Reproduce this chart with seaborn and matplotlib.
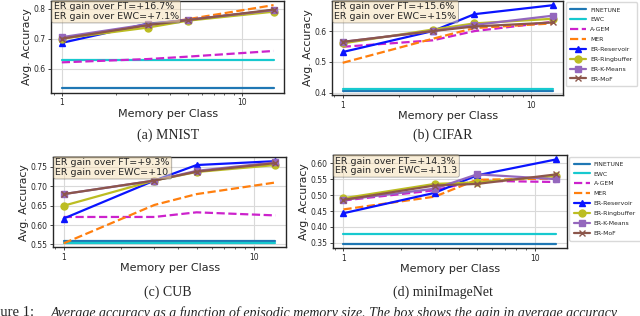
import matplotlib
matplotlib.use("Agg")
import matplotlib.pyplot as plt
import seaborn as sns
import pandas as pd

# ---------------- data ----------------
methods = ["FINETUNE", "EWC", "A-GEM", "MER", "ER-Reservoir",
           "ER-Ringbuffer", "ER-K-Means", "ER-MoF"]

mnist_x = [1, 3, 5, 15]
mnist_finetune = [0.534, 0.534, 0.534, 0.534]
mnist_ewc = [0.630, 0.630, 0.630, 0.630]
mnist_agem = [0.621, 0.632, 0.640, 0.659]
mnist_mer = [0.700, 0.745, 0.765, 0.812]
mnist_reservoir = [0.686, 0.750, 0.762, 0.795]
mnist_ringbuffer = [0.700, 0.737, 0.760, 0.790]
mnist_kmeans = [0.705, 0.748, 0.763, 0.795]
mnist_mof = [0.700, 0.745, 0.762, 0.797]

cifar_x = [1, 3, 5, 13]
cifar_finetune = [0.406, 0.406, 0.406, 0.406]
cifar_ewc = [0.411, 0.411, 0.411, 0.411]
cifar_agem = [0.549, 0.570, 0.600, 0.630]
cifar_mer = [0.497, 0.575, 0.610, 0.625]
cifar_reservoir = [0.532, 0.600, 0.655, 0.684]
cifar_ringbuffer = [0.560, 0.605, 0.625, 0.640]
cifar_kmeans = [0.565, 0.600, 0.620, 0.650]
cifar_mof = [0.565, 0.600, 0.615, 0.628]

cub_x = [1, 3, 5, 13]
cub_finetune = [0.559, 0.559, 0.559, 0.559]
cub_ewc = [0.553, 0.553, 0.553, 0.553]
cub_agem = [0.621, 0.621, 0.633, 0.625]
cub_mer = [0.553, 0.652, 0.680, 0.710]
cub_reservoir = [0.617, 0.715, 0.755, 0.765]
cub_ringbuffer = [0.650, 0.715, 0.737, 0.755]
cub_kmeans = [0.680, 0.715, 0.740, 0.762]
cub_mof = [0.680, 0.715, 0.738, 0.760]

mini_x = [1, 3, 5, 13]
mini_finetune = [0.347, 0.347, 0.347, 0.347]
mini_ewc = [0.378, 0.378, 0.378, 0.378]
mini_agem = [0.483, 0.515, 0.545, 0.541]
mini_mer = [0.455, 0.495, 0.548, 0.552]
mini_reservoir = [0.443, 0.507, 0.562, 0.612]
mini_ringbuffer = [0.490, 0.535, 0.540, 0.560]
mini_kmeans = [0.485, 0.520, 0.565, 0.550]
mini_mof = [0.485, 0.530, 0.535, 0.565]

box_texts = [
    "ER gain over FT=+16.7%\nER gain over EWC=+7.1%",
    "ER gain over FT=+15.6%\nER gain over EWC=+15%",
    "ER gain over FT=+9.3%\nER gain over EWC=+10",
    "ER gain over FT=+14.3%\nER gain over EWC=+11.3",
]
captions = ["(a) MNIST", "(b) CIFAR", "(c) CUB", "(d) miniImageNet"]

# ---------------- style ----------------
sns.set_style("whitegrid", {
    "axes.edgecolor": "0.15",
    "grid.color": "0.85",
    "xtick.bottom": True,
    "ytick.left": True,
})
plt.rcParams["font.family"] = ["DejaVu Sans"]
plt.rcParams["axes.linewidth"] = 1.0

styles = {
    "FINETUNE": dict(color="#1f77b4", ls="-", marker=None),
    "EWC": dict(color="#17c9cf", ls="-", marker=None),
    "A-GEM": dict(color="#cc22cc", ls="--", marker=None),
    "MER": dict(color="#ff7f0e", ls="--", marker=None),
    "ER-Reservoir": dict(color="#0a14ff", ls="-", marker="^"),
    "ER-Ringbuffer": dict(color="#bcbd22", ls="-", marker="o"),
    "ER-K-Means": dict(color="#9467bd", ls="-", marker="s"),
    "ER-MoF": dict(color="#8c564b", ls="-", marker="x"),
}

panels = [
    (mnist_x, [mnist_finetune, mnist_ewc, mnist_agem, mnist_mer, mnist_reservoir,
               mnist_ringbuffer, mnist_kmeans, mnist_mof]),
    (cifar_x, [cifar_finetune, cifar_ewc, cifar_agem, cifar_mer, cifar_reservoir,
               cifar_ringbuffer, cifar_kmeans, cifar_mof]),
    (cub_x, [cub_finetune, cub_ewc, cub_agem, cub_mer, cub_reservoir,
             cub_ringbuffer, cub_kmeans, cub_mof]),
    (mini_x, [mini_finetune, mini_ewc, mini_agem, mini_mer, mini_reservoir,
              mini_ringbuffer, mini_kmeans, mini_mof]),
]

positions = [
    [0.080, 0.707, 0.364, 0.290],
    [0.519, 0.699, 0.361, 0.298],
    [0.083, 0.217, 0.364, 0.286],
    [0.520, 0.215, 0.366, 0.294],
]
caption_pos = [(0.262, 0.572), (0.692, 0.572), (0.262, 0.076), (0.692, 0.076)]

fig = plt.figure(figsize=(6.4, 3.16), dpi=100)

for i, ((xs, series), pos) in enumerate(zip(panels, positions)):
    ax = fig.add_axes(pos)
    frames = []
    for name, vals in zip(methods, series):
        frames.append(pd.DataFrame({"memory": xs, "acc": vals, "method": name}))
    df = pd.concat(frames, ignore_index=True)
    for name in methods:
        st = styles[name]
        sub = df[df["method"] == name]
        sns.lineplot(data=sub, x="memory", y="acc", ax=ax, color=st["color"],
                     linestyle=st["ls"], marker=st["marker"], markersize=5,
                     markeredgecolor=st["color"], markerfacecolor=st["color"],
                     markeredgewidth=1.0,
                     linewidth=1.6, label=name, legend=False)
    ax.set_xscale("log")
    ax.set_xticks([1, 10])
    ax.set_xticklabels(["1", "10"])
    ax.tick_params(axis="both", which="major", labelsize=5.5, length=2.5, width=0.6, pad=1.5)
    ax.tick_params(axis="x", which="minor", length=1.5, width=0.5, bottom=True)
    ax.set_xlabel("Memory per Class", fontsize=8, labelpad=1)
    ax.set_ylabel("Avg. Accuracy", fontsize=7.8, labelpad=1)
    ax.grid(True, which="major", color="0.85", linewidth=0.8)
    ax.text(0.01, 0.985, box_texts[i], transform=ax.transAxes, fontsize=6.8,
            va="top", ha="left", linespacing=1.1,
            bbox=dict(boxstyle="round,pad=0.2", facecolor="wheat", alpha=0.5,
                      edgecolor="0.3", linewidth=0.6))
    if i in (1, 3):
        ax.legend(loc="upper left", bbox_to_anchor=(1.01, 0.985), fontsize=4.4,
                  frameon=True, borderaxespad=0.0, labelspacing=0.75,
                  handlelength=2.6, handletextpad=0.6, borderpad=0.8,
                  framealpha=1.0, edgecolor="0.85")
    fig.text(caption_pos[i][0], caption_pos[i][1], captions[i], ha="center",
             va="center", fontsize=10, family="Liberation Serif")

fig.text(-0.03, 0.032, "Figure 1:", fontsize=10.5, family="Liberation Serif", va="top")
fig.text(0.080, 0.032,
         "Average accuracy as a function of episodic memory size. The box shows the gain in average accuracy",
         fontsize=10.0, family="Liberation Serif", style="italic", va="top")

fig.savefig("out.png", dpi=100)
